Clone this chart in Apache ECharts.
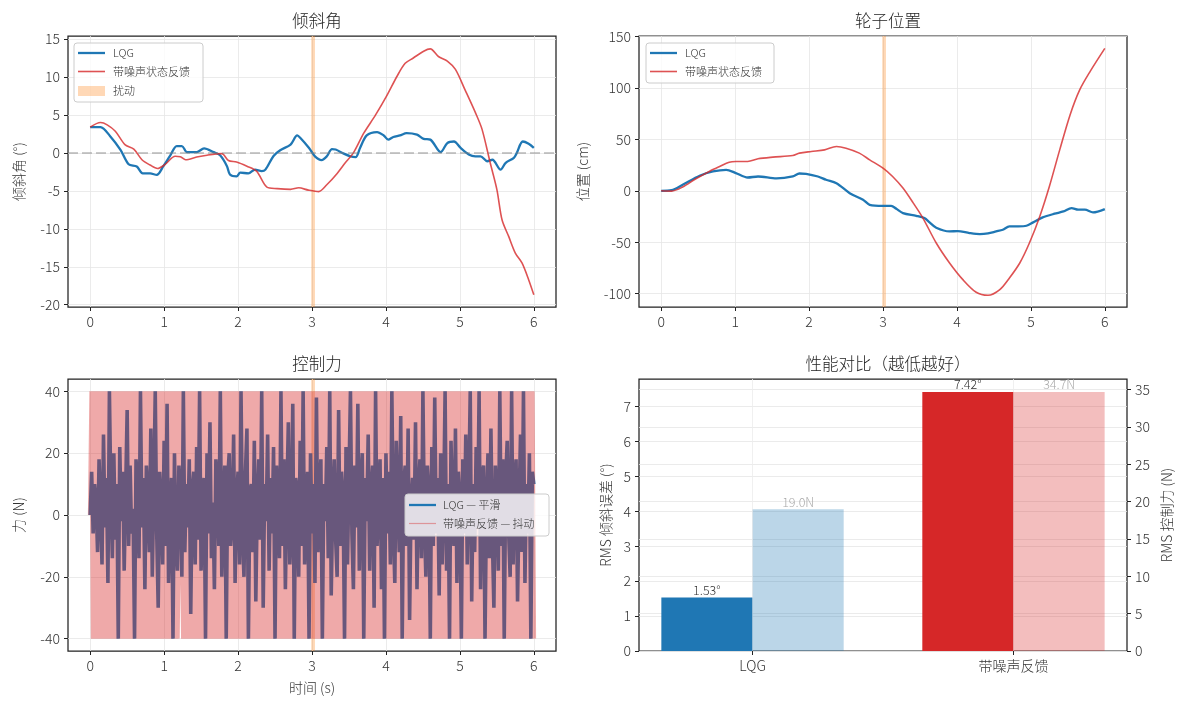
<!DOCTYPE html>
<html>
<head>
<meta charset="utf-8">
<script src="https://cdn.jsdelivr.net/npm/echarts@6/dist/echarts.min.js"></script>
<style>
  html, body { margin: 0; padding: 0; background: #fff; }
  #main { width: 1181px; height: 701px; }
</style>
</head>
<body>
<div id="main"></div>
<script>
// ---- 倾斜角 (°) ----
var lqgTiltT = [0, 0.14, 0.27, 0.41, 0.52, 0.63, 0.71, 0.81, 0.9, 0.99, 1.08, 1.17, 1.24, 1.31, 1.44, 1.54, 1.67, 1.76, 1.85, 1.89,
  1.98, 2.03, 2.14, 2.23, 2.32, 2.37, 2.48, 2.57, 2.71, 2.8, 2.84, 2.96, 3.04, 3.13, 3.2, 3.27, 3.32, 3.43, 3.52, 3.59,
  3.65, 3.74, 3.88, 3.97, 4.03, 4.1, 4.19, 4.28, 4.42, 4.51, 4.6, 4.74, 4.83, 4.92, 5.01, 5.12, 5.21, 5.28, 5.37, 5.44,
  5.55, 5.62, 5.73, 5.77, 5.85, 5.93, 6.0];
var lqgTilt = [3.4, 3.4, 2.2, 0.4, -1.5, -1.8, -2.7, -2.7, -2.9, -1.75, -0.4, 0.9, 0.9, 0.1, 0.1, 0.6, 0.1, -0.35, -1.75, -2.85,
  -3.1, -2.6, -2.7, -2.2, -2.4, -2.2, -0.4, 0.35, 1.1, 2.3, 2.0, 0.65, -0.45, -0.95, -0.45, 0.5, 0.45, -0.1, -0.45, -0.55,
  0.65, 2.3, 2.75, 2.3, 1.75, 2.1, 2.3, 2.6, 2.4, 1.85, 1.75, 0.1, 1.3, 1.5, 0.65, -0.2, -0.45, -0.45, -1.1, -0.9,
  -2.2, -1.3, -0.65, 0, 1.5, 1.2, 0.65];
var fbTiltT = [0, 0.14, 0.23, 0.34, 0.47, 0.59, 0.7, 0.81, 0.91, 1.01, 1.15, 1.22, 1.29, 1.44, 1.58, 1.78, 1.87, 1.98, 2.12, 2.25,
  2.39, 2.53, 2.71, 2.82, 2.95, 3.09, 3.2, 3.34, 3.45, 3.56, 3.7, 3.86, 4.01, 4.15, 4.26, 4.37, 4.51, 4.6, 4.71, 4.83,
  4.94, 5.07, 5.21, 5.3, 5.41, 5.5, 5.57, 5.66, 5.75, 5.84, 5.93, 6.0];
var fbTilt = [3.4, 4.0, 3.7, 2.85, 1.1, 0.5, -0.9, -1.6, -2.05, -1.55, -0.45, -0.5, -0.9, -0.55, -0.3, -0.1, -1.0, -1.2, -1.75, -2.4,
  -4.5, -4.7, -4.8, -4.6, -4.9, -5.1, -4.2, -2.7, -1.3, 0, 2.6, 5.0, 7.5, 10.1, 11.8, 12.5, 13.4, 13.7, 12.7, 12.1,
  11.0, 8.3, 5.3, 3.1, -1.3, -4.8, -8.8, -11, -13.2, -14.5, -16.7, -18.7];

// ---- 轮子位置 (cm) ----
var lqgPosT = [0, 0.14, 0.29, 0.52, 0.7, 0.88, 1.01, 1.17, 1.31, 1.56, 1.78, 1.87, 1.96, 2.12, 2.23, 2.37, 2.55, 2.73, 2.82, 3.0,
  3.11, 3.18, 3.27, 3.45, 3.56, 3.63, 3.72, 3.9, 4.01, 4.17, 4.31, 4.42, 4.53, 4.62, 4.71, 4.83, 4.94, 5.03, 5.16, 5.32,
  5.44, 5.55, 5.64, 5.73, 5.84, 6.0];
var lqgPos = [0, 0.6, 5.8, 14.6, 18.8, 20.4, 17.2, 12.9, 13.9, 12, 13.9, 16.8, 16.5, 13.9, 10.7, 7.4, -2.3, -8.7, -13.6, -14.6,
  -14.6, -17.5, -21.7, -24.3, -26.5, -30.7, -35.9, -39.5, -39.2, -41.1, -42.1, -41.4, -39.5, -37.9, -34.6, -34.6, -34, -30.7, -25.9, -22.3,
  -20.1, -16.8, -18.4, -18.4, -21, -17.8];
var fbPosT = [0, 0.14, 0.29, 0.47, 0.65, 0.79, 0.92, 1.01, 1.17, 1.31, 1.51, 1.78, 1.87, 2.03, 2.21, 2.37, 2.5, 2.68, 2.82, 3.0,
  3.13, 3.27, 3.41, 3.54, 3.72, 3.9, 4.08, 4.26, 4.42, 4.58, 4.71, 4.85, 4.98, 5.12, 5.25, 5.39, 5.53, 5.66, 5.8, 6.0];
var fbPos = [0, -0.3, 3.6, 11.7, 18.8, 23.6, 27.8, 28.5, 28.5, 31.1, 32.7, 34.3, 36.6, 38.2, 39.8, 43, 41.4, 36.6, 30.1, 22,
  13.9, 2.6, -12, -26.5, -50.8, -70.2, -86.4, -98.7, -101.6, -96.1, -84.8, -70.2, -50.8, -24.9, 4.2, 39.8, 73.8, 98.1, 115.9, 138.5];

// ---- 控制力 (N), one sample every forceDt s ----
var forceDt = 0.02;
var forceLqg = [
  0, 14, -6, 10, 4, -12, 18, 2, -16, 26, -4, 12, -22, 40, 6, -14, 20, -8, 10, -40,
  22, -2, 14, -18, 8, 34, -10, 16, -6, 2, -40, 18, 10, -14, 40, -4, 12, -24, 16, 6,
  -12, 28, -20, 8, 40, -6, -30, 14, 4, -16, 24, -10, 36, -22, 2, 12, -40, 20, -8, -18,
  16, 6, -20, 40, -12, 10, -4, 18, -32, 8, 14, -16, 22, -8, 40, -18, 4, 12, -40, 20,
  -6, 30, -14, 4, -24, 18, 8, -10, 40, -20, 2, 16, -40, 12, 20, -10, -2, 26, -22, 6,
  14, -16, 40, -6, -20, 14, 28, -40, 8, 10, -12, 24, -28, 4, 18, -8, 40, -30, 10, -2,
  26, -18, 12, -6, 22, -40, 16, 4, -14, 40, -10, 18, -24, 6, 30, -16, -4, 36, -40, 12,
  8, -20, 24, -10, 40, -16, 2, 14, -40, 20, -6, 10, -22, 38, -12, 8, 18, -40, 10, -2,
  22, -14, 40, -26, 4, 18, -8, -20, 34, -10, 14, 6, -40, 22, -16, 12, 40, -6, -24, 16,
  -4, 36, -18, 10, 20, -40, 12, -2, 26, -18, 8, 16, -30, 40, -10, 4, 18, -24, 12, -40,
  20, -6, 14, -16, 40, -4, -22, 24, 6, -12, 32, -40, 10, 16, -10, 28, -34, 4, 12, -8,
  30, -24, 8, 18, -14, 40, -2, -20, 16, 8, -40, 22, -10, 38, -6, 12, -26, 20, -16, 2,
  40, -18, 10, -40, 24, 2, -10, 28, -22, 14, 6, -40, 18, -6, 26, -16, 8, 40, -28, 10,
  -12, 22, -4, 40, -24, 12, 16, -40, 4, 20, -14, 28, -8, -30, 16, 6, -18, 40, -10, 18,
  -40, 12, 24, -6, -20, 40, -16, 10, 18, -28, 2, 26, -12, 40, -22, 10, -6, 20, -40, 14,
  10];
var forceNoisy = [
  0, 40, -40, 40, -40, 40, -40, 40, 40, -40, 40, -40, -40, 40, -40, 40, -40, 40, -40, 40,
  -40, 40, -40, 40, 40, -40, 40, -40, 40, -40, -40, 40, -40, 40, -40, 40, 40, -40, 40, -40,
  40, -40, 40, -40, 40, -40, -40, 40, -40, 40, -40, 40, -40, 40, 40, -40, 40, -40, 40, -40,
  -40, 40, 40, -40, 40, -40, 40, -40, -40, 40, -40, 40, -40, 40, -40, 40, 40, -40, 40, -40,
  40, -40, 40, -40, -40, 40, -40, 40, -40, 40, 40, -40, 40, -40, 40, -40, -40, 40, -40, 40,
  -40, 40, -40, 40, -40, 40, 40, -40, 40, -40, 40, -40, -40, 40, -40, 40, -40, 40, 40, -40,
  40, -40, 40, 40, -40, 40, -40, 40, -40, -40, 40, -40, 40, -40, 40, 40, -40, 40, -40, 40,
  -40, 40, -40, 40, -40, -40, 40, -40, 40, -40, 40, 40, -40, 40, -40, 40, -40, -40, 40, -40,
  40, -40, -40, 40, -40, 40, -40, 40, 40, -40, 40, -40, 40, -40, -40, 40, -40, 40, -40, 40,
  40, -40, 40, -40, 40, -40, -40, 40, -40, 40, -40, 40, 40, -40, 40, -40, 40, -40, -40, 40,
  -40, 40, -40, 40, 40, -40, 40, -40, 40, -40, -40, 40, -40, 40, -40, 40, 40, -40, 40, -40,
  40, -40, 40, -40, -40, 40, -40, 40, -40, 40, 40, -40, 40, -40, 40, -40, -40, 40, -40, 40,
  -40, 40, 40, -40, 40, -40, 40, -40, -40, 40, -40, 40, -40, 40, 40, -40, 40, -40, 40, -40,
  40, -40, 40, -40, 40, 40, -40, 40, -40, 40, -40, -40, 40, -40, 40, -40, 40, 40, -40, 40,
  -40, 40, -40, 40, -40, 40, -40, -40, 40, -40, 40, -40, 40, 40, -40, 40, -40, 40, -40, 40,
  -40];

// ---- 性能对比 ----
var barCats = ['LQG', '带噪声反馈'];
var rmsTilt = [1.53, 7.42];
var rmsForce = [19.0, 34.7];

var timeTicks = [0, 1, 2, 3, 4, 5, 6];
var tiltTicks = [-20, -15, -10, -5, 0, 5, 10, 15];
var posTicks = [-100, -50, 0, 50, 100, 150];
var forceTicks = [-40, -20, 0, 20, 40];
var rmsTiltTicks = [0, 1, 2, 3, 4, 5, 6, 7];
var rmsForceTicks = [0, 5, 10, 15, 20, 25, 30, 35];

var FONT = '"Noto Sans CJK SC", "Noto Sans", sans-serif';
var BLUE = '#1f77b4';
var RED = '#d62728';
var DIST = 'rgba(255,127,14,0.3)';

var pair = (ts, vs) => ts.map((t, i) => [t, vs[i]]);
var forcePairs = (vs) => vs.map((v, i) => [+(i * forceDt).toFixed(2), v]);

let valAxis = (gridIndex, min, max, ticks, extra) => {
  let ax = {
    type: 'value',
    gridIndex: gridIndex,
    min: min,
    max: max,
    axisLine: { show: false, onZero: false },
    axisTick: { show: true, inside: false, length: 4, customValues: ticks, lineStyle: { color: '#222', width: 1 } },
    axisLabel: { customValues: ticks, color: '#333', fontSize: 14, fontFamily: FONT, fontWeight: 300, margin: 8 },
    splitLine: { show: true, lineStyle: { color: '#e6e6e6', width: 0.8 } },
    nameTextStyle: { color: '#333', fontSize: 14, fontFamily: FONT, fontWeight: 300 }
  };
  return Object.assign(ax, extra || {});
};

var distArea = {
  silent: true,
  itemStyle: { color: DIST },
  data: [[{ xAxis: 2.99 }, { xAxis: 3.04 }]]
};

let gridBox = (left, top, height) => ({
  left: left, top: top, width: 488, height: height,
  show: true, borderColor: '#222', borderWidth: 1.25, backgroundColor: 'transparent'
});

var titleStyle = { color: '#222', fontSize: 16.5, fontWeight: 300, fontFamily: FONT };

// legends drawn by hand, matplotlib style
let legendBox = (x, y, w, h) => ({
  type: 'rect', z: 100, shape: { x: x, y: y, width: w, height: h, r: 3 },
  style: { fill: 'rgba(255,255,255,0.8)', stroke: '#cccccc', lineWidth: 1 }
});
let legendLine = (x, y, color, width) => ({
  type: 'line', z: 101, shape: { x1: x, y1: y, x2: x + 27, y2: y },
  style: { stroke: color, lineWidth: width }
});
let legendText = (x, y, txt) => ({
  type: 'text', z: 101,
  style: { text: txt, x: x, y: y, fill: '#333', fontSize: 11, fontFamily: FONT, fontWeight: 300, verticalAlign: 'middle' }
});

var myChart = echarts.init(document.getElementById('main'));

var option = {
  animation: false,
  backgroundColor: '#fff',
  textStyle: { fontFamily: FONT },
  title: [
    { text: '倾斜角', left: 312, top: 7, textAlign: 'center', textStyle: titleStyle },
    { text: '轮子位置', left: 883, top: 7, textAlign: 'center', textStyle: titleStyle },
    { text: '控制力', left: 312, top: 350, textAlign: 'center', textStyle: titleStyle },
    { text: '性能对比（越低越好）', left: 883, top: 350, textAlign: 'center', textStyle: titleStyle }
  ],
  grid: [
    gridBox(68, 36, 271),
    gridBox(639, 36, 271),
    gridBox(68, 379, 272),
    gridBox(639, 379, 272)
  ],
  xAxis: [
    valAxis(0, -0.3, 6.3, timeTicks),
    valAxis(1, -0.3, 6.3, timeTicks),
    valAxis(2, -0.3, 6.3, timeTicks, { name: '时间 (s)', nameLocation: 'middle', nameGap: 30 }),
    valAxis(3, -0.435, 1.435, [0, 1])
  ],
  yAxis: [
    valAxis(0, -20.3, 15.4, tiltTicks, { name: '倾斜角 (°)', nameLocation: 'middle', nameGap: 42 }),
    valAxis(1, -113, 150.5, posTicks, { name: '位置 (cm)', nameLocation: 'middle', nameGap: 49 }),
    valAxis(2, -44, 44, forceTicks, { name: '力 (N)', nameLocation: 'middle', nameGap: 42 }),
    valAxis(3, 0, 7.79, rmsTiltTicks, { name: 'RMS 倾斜误差 (°)', nameLocation: 'middle', nameGap: 26 }),
    valAxis(3, 0, 36.435, rmsForceTicks, { position: 'right', name: 'RMS 控制力 (N)', nameLocation: 'middle', nameGap: 33 })
  ],
  series: [
    {
      name: 'LQG', type: 'line', xAxisIndex: 0, yAxisIndex: 0, data: pair(lqgTiltT, lqgTilt),
      showSymbol: false, smooth: 0.3, lineStyle: { color: BLUE, width: 2.3 }, itemStyle: { color: BLUE },
      markLine: {
        silent: true, symbol: 'none', label: { show: false },
        lineStyle: { color: 'rgba(128,128,128,0.55)', width: 1.6, type: [10, 4] },
        data: [{ yAxis: 0 }]
      }
    },
    {
      name: '带噪声状态反馈', type: 'line', xAxisIndex: 0, yAxisIndex: 0, data: pair(fbTiltT, fbTilt),
      showSymbol: false, smooth: 0.3, lineStyle: { color: RED, width: 1.6, opacity: 0.8 }, itemStyle: { color: RED },
      markArea: distArea
    },
    {
      name: 'LQG', type: 'line', xAxisIndex: 1, yAxisIndex: 1, data: pair(lqgPosT, lqgPos),
      showSymbol: false, smooth: 0.3, lineStyle: { color: BLUE, width: 2.3 }, itemStyle: { color: BLUE }
    },
    {
      name: '带噪声状态反馈', type: 'line', xAxisIndex: 1, yAxisIndex: 1, data: pair(fbPosT, fbPos),
      showSymbol: false, smooth: 0.3, lineStyle: { color: RED, width: 1.6, opacity: 0.8 }, itemStyle: { color: RED },
      markArea: distArea
    },
    {
      name: 'LQG — 平滑', type: 'line', xAxisIndex: 2, yAxisIndex: 2, data: forcePairs(forceLqg),
      showSymbol: false, lineStyle: { color: BLUE, width: 3.6 }, itemStyle: { color: BLUE }
    },
    {
      name: '带噪声反馈 — 抖动', type: 'line', xAxisIndex: 2, yAxisIndex: 2, data: forcePairs(forceNoisy),
      showSymbol: false, lineStyle: { color: RED, width: 4.6, opacity: 0.4, join: 'bevel' }, itemStyle: { color: RED },
      markArea: distArea
    },
    {
      name: 'RMS 倾斜误差', type: 'bar', xAxisIndex: 3, yAxisIndex: 3, barWidth: 91, barGap: '-100%',
      data: rmsTilt.map((v, i) => ({ value: [i - 0.175, v], itemStyle: { color: i === 0 ? BLUE : RED } })),
      label: {
        show: true, position: 'top', distance: 1, color: '#333', fontSize: 12.5, fontFamily: FONT, fontWeight: 300,
        formatter: (p) => p.value[1].toFixed(2) + '°'
      }
    },
    {
      name: 'RMS 控制力', type: 'bar', xAxisIndex: 3, yAxisIndex: 4, barWidth: 91, barGap: '-100%',
      data: rmsForce.map((v, i) => ({ value: [i + 0.175, v], itemStyle: { color: i === 0 ? 'rgba(31,119,180,0.3)' : 'rgba(214,39,40,0.3)' } })),
      label: {
        show: true, position: 'top', distance: 1, color: '#aaa', fontSize: 12.5, fontFamily: FONT, fontWeight: 300,
        formatter: (p) => p.value[1].toFixed(1) + 'N'
      }
    }
  ],
  graphic: [
    legendBox(74, 43, 129, 59),
    legendLine(78, 53, BLUE, 2.3),
    legendText(113, 53, 'LQG'),
    legendLine(78, 71.5, 'rgba(214,39,40,0.8)', 1.6),
    legendText(113, 71.5, '带噪声状态反馈'),
    { type: 'rect', z: 101, shape: { x: 78, y: 86, width: 27, height: 10 }, style: { fill: DIST } },
    legendText(113, 90.5, '扰动'),

    legendBox(646, 43, 128, 40),
    legendLine(650, 53, BLUE, 2.3),
    legendText(685, 53, 'LQG'),
    legendLine(650, 71.5, 'rgba(214,39,40,0.8)', 1.6),
    legendText(685, 71.5, '带噪声状态反馈'),

    legendBox(405, 494, 144, 42),
    legendLine(409, 505, BLUE, 2.3),
    legendText(443, 505, 'LQG — 平滑'),
    legendLine(409, 523.5, 'rgba(214,39,40,0.4)', 1.2),
    legendText(443, 523.5, '带噪声反馈 — 抖动')
  ]
};

// x labels of the bar panel are the category names
option.xAxis[3].axisLabel.formatter = (v) => barCats[Math.round(v)];
option.xAxis[3].splitLine.lineStyle = { color: '#ececec', width: 0.8 };

myChart.setOption(option);
</script>
</body>
</html>
